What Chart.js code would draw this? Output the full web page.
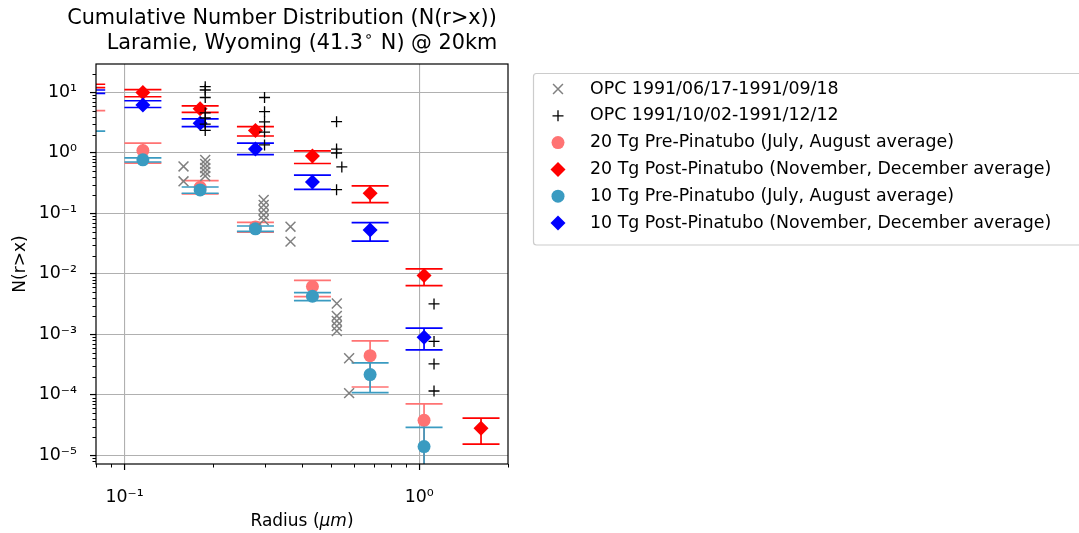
<!DOCTYPE html>
<html>
<head>
<meta charset="utf-8">
<script src="https://cdn.jsdelivr.net/npm/chart.js@4.4.1/dist/chart.umd.min.js"></script>
<style>
  html, body { margin: 0; padding: 0; background: #fff; }
  #wrap { width: 1079px; height: 533px; }
</style>
</head>
<body>
<div id="wrap"><canvas id="chart" width="1079" height="533"></canvas></div>
<script>
// model radius bins (um)
const radius = [0.0744, 0.1154, 0.1805, 0.278, 0.434, 0.681, 1.038, 1.62];

// 20 Tg pre-Pinatubo
const pre20 = [14, 1.1, 0.27, 0.06, 0.0062, 0.000445, 3.8e-5];
const pre20Lo = [5.0, 0.68, 0.21, 0.049, 0.0042, 0.000135, 3e-6];
const pre20Hi = [40, 1.45, 0.35, 0.071, 0.0078, 0.00078, 7.1e-5];

// 20 Tg post-Pinatubo
const post20 = [12.8, 10.0, 5.4, 2.35, 0.89, 0.216, 0.0094, 2.82e-5];
const post20Lo = [12.0, 8.5, 4.7, 1.91, 0.67, 0.151, 0.0064, 1.53e-5];
const post20Hi = [13.7, 11.2, 6.0, 2.72, 1.08, 0.285, 0.0121, 4.12e-5];

// 10 Tg pre-Pinatubo
const pre10 = [12, 0.77, 0.245, 0.0558, 0.00428, 0.000217, 1.4e-5];
const pre10Lo = [2.3, 0.71, 0.216, 0.0505, 0.00362, 0.000109, 1e-6];
const pre10Hi = [40, 0.83, 0.274, 0.062, 0.0049, 0.000338, 2.9e-5];

// 10 Tg post-Pinatubo
const post10 = [10.3, 6.2, 3.1, 1.16, 0.33, 0.0533, 0.0009];
const post10Lo = [9.7, 5.65, 2.72, 0.94, 0.25, 0.035, 0.000555];
const post10Hi = [11.0, 7.3, 3.65, 1.45, 0.43, 0.0705, 0.00127];

// OPC observations
const opcSummerR = [0.1585, 0.1585, 0.1878, 0.1878, 0.1878, 0.1878, 0.1878,
  0.2965, 0.2965, 0.2965, 0.2965, 0.2965, 0.3656, 0.3656,
  0.525, 0.525, 0.525, 0.525, 0.525, 0.578, 0.578];
const opcSummerN = [0.6, 0.34, 0.766, 0.657, 0.565, 0.485, 0.417,
  0.167, 0.138, 0.114, 0.094, 0.078, 0.0605, 0.0342,
  0.00325, 0.00202, 0.00167, 0.00138, 0.00114, 0.000404, 0.000107];
const opcWinterR = [0.1878, 0.1878, 0.1878, 0.1878, 0.1878, 0.1878, 0.1878,
  0.2985, 0.2985, 0.2985, 0.2985, 0.2985, 0.524, 0.524, 0.524, 0.524, 0.546,
  1.122, 1.122, 1.122, 1.122];
const opcWinterN = [12.5, 11.0, 8.26, 4.6, 3.79, 3.01, 2.36,
  8.27, 4.82, 3.27, 2.22, 1.36, 3.29, 1.16, 1.0, 0.247, 0.587,
  0.00319, 0.000766, 0.000325, 0.000116];

const xTicks = [0.1, 1];
const yTicks = [1e-5, 1e-4, 1e-3, 1e-2, 1e-1, 1, 10];

const FONT = 'DejaVu Sans';
Chart.defaults.font.family = FONT;
Chart.defaults.color = '#000';

const pts = (xs, ys) => ys.map((v, i) => ({ x: xs[i], y: v }));
const sup = { '-': '\u207B', '0': '\u2070', '1': '\u00B9', '2': '\u00B2', '3': '\u00B3', '4': '\u2074', '5': '\u2075' };
const powLabel = (v) => '10' + String(Math.round(Math.log10(v))).split('').map((c) => sup[c]).join('');

const datasets = [
  { label: 'OPC 1991/06/17-1991/09/18', data: pts(opcSummerR, opcSummerN), pointStyle: 'crossRot',
    pointRadius: 7, borderColor: '#808080', backgroundColor: '#808080', pointBorderWidth: 1.5, order: 2 },
  { label: 'OPC 1991/10/02-1991/12/12', data: pts(opcWinterR, opcWinterN), pointStyle: 'cross',
    pointRadius: 5.5, borderColor: '#000', backgroundColor: '#000', pointBorderWidth: 1.3, order: 1 },
  { label: '20 Tg Pre-Pinatubo (July, August average)', data: pts(radius, pre20), errLo: pre20Lo, errHi: pre20Hi,
    pointStyle: 'circle', pointRadius: 6.5, backgroundColor: '#ff7373', borderColor: '#ff7373', pointBorderWidth: 0, order: 6 },
  { label: '20 Tg Post-Pinatubo (November, December average)', data: pts(radius, post20), errLo: post20Lo, errHi: post20Hi,
    pointStyle: 'rectRot', pointRadius: 7.5, backgroundColor: '#ff0000', borderColor: '#ff0000', pointBorderWidth: 0, order: 5 },
  { label: '10 Tg Pre-Pinatubo (July, August average)', data: pts(radius, pre10), errLo: pre10Lo, errHi: pre10Hi,
    pointStyle: 'circle', pointRadius: 6.5, backgroundColor: '#3a9bc1', borderColor: '#3a9bc1', pointBorderWidth: 0, order: 4 },
  { label: '10 Tg Post-Pinatubo (November, December average)', data: pts(radius, post10), errLo: post10Lo, errHi: post10Hi,
    pointStyle: 'rectRot', pointRadius: 7.5, backgroundColor: '#0000ff', borderColor: '#0000ff', pointBorderWidth: 0, order: 3 }
];

const errorBars = {
  id: 'errorBars',
  beforeDatasetDraw(chart, args) {
    const ds = chart.data.datasets[args.index];
    if (!ds.errLo) return;
    const { ctx, chartArea: a, scales: { x, y } } = chart;
    ctx.save();
    ctx.beginPath();
    ctx.rect(a.left, a.top, a.right - a.left, a.bottom - a.top);
    ctx.clip();
    ctx.strokeStyle = ds.borderColor;
    ctx.lineWidth = 1.7;
    ds.data.forEach((p, i) => {
      const px = x.getPixelForValue(p.x);
      const top = y.getPixelForValue(ds.errHi[i]);
      const bot = y.getPixelForValue(ds.errLo[i]);
      ctx.beginPath();
      ctx.moveTo(px, top); ctx.lineTo(px, bot);
      ctx.moveTo(px - 18.5, top); ctx.lineTo(px + 18.5, top);
      ctx.moveTo(px - 18.5, bot); ctx.lineTo(px + 18.5, bot);
      ctx.stroke();
    });
    ctx.restore();
  }
};

const decorations = {
  id: 'decorations',
  afterDraw(chart) {
    const { ctx, chartArea: a, scales: { x, y } } = chart;
    const font = (size, style) => (style || '') + size + 'px "' + FONT + '"';
    ctx.save();
    // frame
    ctx.strokeStyle = '#000';
    ctx.lineWidth = 1.2;
    ctx.strokeRect(a.left, a.top, a.right - a.left, a.bottom - a.top);

    // minor ticks
    ctx.lineWidth = 1;
    ctx.beginPath();
    for (let k = -6; k <= 1; k++) {
      for (let m = 2; m <= 9; m++) {
        const v = m * Math.pow(10, k);
        if (v >= y.min && v <= y.max) {
          const py = Math.round(y.getPixelForValue(v)) + 0.5;
          ctx.moveTo(a.left - 3.5, py); ctx.lineTo(a.left, py);
        }
        if (v >= x.min && v <= x.max * 1.0001) {
          const px = Math.round(x.getPixelForValue(v)) + 0.5;
          ctx.moveTo(px, a.bottom); ctx.lineTo(px, a.bottom + 3.5);
        }
      }
    }
    ctx.stroke();

    // title
    ctx.fillStyle = '#000';
    ctx.textAlign = 'center';
    ctx.textBaseline = 'middle';
    ctx.font = font(20.8);
    ctx.fillText('Cumulative Number Distribution (N(r>x))', 282, 19);
    // second line with a superscript degree ring
    const t1 = 'Laramie, Wyoming (41.3', t2 = '\u2218', t3 = ' N) @ 20km';
    ctx.font = font(20.8);
    const w1 = ctx.measureText(t1).width, w3 = ctx.measureText(t3).width;
    ctx.font = font(14.6);
    const w2 = ctx.measureText(t2).width;
    let sx = 302 - (w1 + w2 + w3 + 2) / 2;
    ctx.textAlign = 'left';
    ctx.font = font(20.8);
    ctx.fillText(t1, sx, 44);
    ctx.font = font(14.6);
    ctx.fillText(t2, sx + w1 + 1, 37);
    ctx.font = font(20.8);
    ctx.fillText(t3, sx + w1 + w2 + 2, 44);

    // axis titles
    const cx = (a.left + a.right) / 2;
    const parts = [['Radius (', ''], ['\u03BCm', 'italic '], [')', '']];
    let total = 0;
    parts.forEach((p) => { ctx.font = font(17, p[1]); total += ctx.measureText(p[0]).width; });
    let tx = cx - total / 2;
    parts.forEach((p) => {
      ctx.font = font(17, p[1]);
      ctx.fillText(p[0], tx, 522);
      tx += ctx.measureText(p[0]).width;
    });
    ctx.save();
    ctx.translate(21, (a.top + a.bottom) / 2);
    ctx.rotate(-Math.PI / 2);
    ctx.textAlign = 'center';
    ctx.font = font(17);
    ctx.fillText('N(r>x)', 0, 0);
    ctx.restore();

    // legend
    const lx = 533.5, ly = 73.5, lw = 560, lh = 171.5;
    ctx.fillStyle = 'rgba(255,255,255,0.8)';
    ctx.strokeStyle = '#cccccc';
    ctx.lineWidth = 1.2;
    ctx.beginPath();
    ctx.roundRect(lx, ly, lw, lh, 3);
    ctx.fill();
    ctx.stroke();
    ctx.font = font(17.4);
    ctx.textBaseline = 'middle';
    ctx.textAlign = 'left';
    chart.data.datasets.forEach((ds, i) => {
      const ry = 89 + i * 26.8;
      ctx.fillStyle = ds.backgroundColor;
      ctx.strokeStyle = ds.borderColor;
      ctx.lineWidth = ds.pointBorderWidth;
      Chart.helpers.drawPoint(ctx, { pointStyle: ds.pointStyle, radius: ds.pointRadius, rotation: 0, borderWidth: ds.pointBorderWidth }, 558, ry);
      ctx.fillStyle = '#000';
      ctx.fillText(ds.label, 590, ry);
    });
    ctx.restore();
  }
};

new Chart(document.getElementById('chart'), {
  type: 'scatter',
  data: { datasets },
  options: {
    responsive: false,
    animation: false,
    devicePixelRatio: 1,
    clip: 0,
    layout: { padding: { top: 64, right: 571, bottom: 0, left: 0 } },
    plugins: { legend: { display: false }, tooltip: { enabled: false }, title: { display: false } },
    scales: {
      x: {
        type: 'logarithmic', min: 0.08, max: 2.0, bounds: 'data',
        afterBuildTicks: (s) => { s.ticks = xTicks.map((v) => ({ value: v, major: true })); },
        afterFit: (s) => { s.height = 69; },
        ticks: { callback: (v) => powLabel(v), font: { size: 17.4 }, color: '#000', padding: 17, maxRotation: 0, autoSkip: false },
        grid: { color: '#b0b0b0', lineWidth: 1.1, tickColor: '#000', tickLength: 6, tickWidth: 1.2 },
        border: { display: false }
      },
      y: {
        type: 'logarithmic', min: 7.2e-6, max: 29.6, bounds: 'data',
        afterBuildTicks: (s) => { s.ticks = yTicks.map((v) => ({ value: v, major: true })); },
        afterFit: (s) => { s.width = 96; },
        ticks: { callback: (v) => powLabel(v), font: { size: 17.4 }, color: '#000', padding: 13, autoSkip: false },
        grid: { color: '#b0b0b0', lineWidth: 1.1, tickColor: '#000', tickLength: 6, tickWidth: 1.2 },
        border: { display: false }
      }
    }
  },
  plugins: [errorBars, decorations]
});
</script>
</body>
</html>
